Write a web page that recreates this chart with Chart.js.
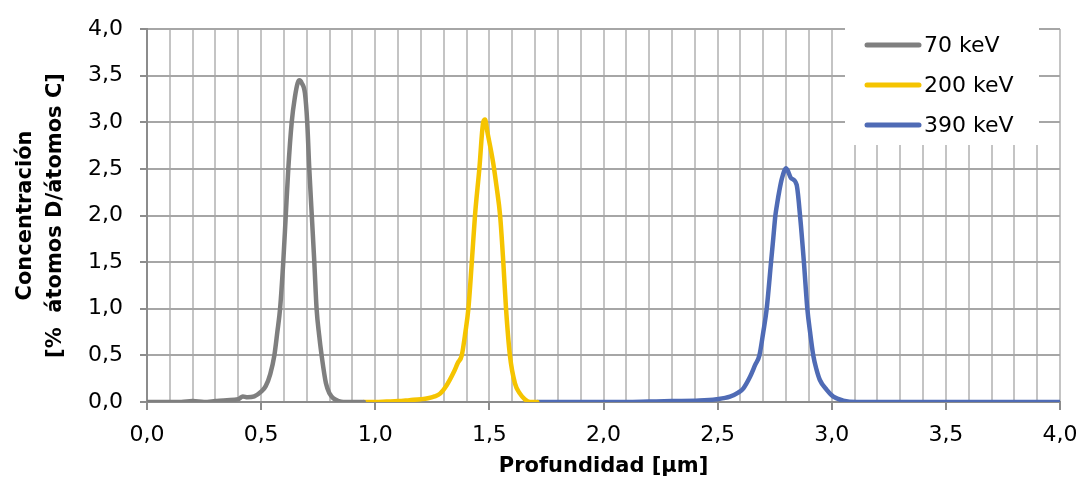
<!DOCTYPE html>
<html>
<head>
<meta charset="utf-8">
<script src="https://cdn.jsdelivr.net/npm/chart.js@4.4.1/dist/chart.umd.min.js"></script>
<style>
  html, body { margin: 0; padding: 0; background: #fff; overflow: hidden; }
  #wrap { width: 1082px; height: 481px; position: relative; }
  canvas { display: block; }
</style>
</head>
<body>
<div id="wrap"><canvas id="myChart"></canvas></div>
<script>
// depth [µm] and concentration [% D/C]
const depth70 = [0.00, 0.05, 0.10, 0.15, 0.20, 0.25, 0.30, 0.35, 0.40, 0.42, 0.44, 0.47, 0.50, 0.52, 0.54, 0.558, 0.571, 0.583, 0.597, 0.608, 0.619, 0.634, 0.648, 0.660, 0.668, 0.678, 0.692, 0.702, 0.711, 0.722, 0.733, 0.743, 0.754, 0.765, 0.784, 0.800, 0.816, 0.84, 0.86, 0.90, 0.95];
const conc70  = [0.00, 0.00, 0.00, 0.00, 0.01, 0.00, 0.01, 0.02, 0.03, 0.06, 0.05, 0.06, 0.11, 0.17, 0.30, 0.50, 0.75, 1.00, 1.50, 2.00, 2.50, 3.00, 3.27, 3.42, 3.45, 3.42, 3.31, 3.00, 2.50, 2.00, 1.50, 1.00, 0.72, 0.50, 0.20, 0.09, 0.04, 0.01, 0.00, 0.00, 0.00];

const depth200 = [0.95, 1.00, 1.05, 1.10, 1.15, 1.20, 1.23, 1.26, 1.284, 1.313, 1.342, 1.362, 1.379, 1.395, 1.408, 1.423, 1.437, 1.456, 1.473, 1.481, 1.491, 1.517, 1.532, 1.547, 1.561, 1.573, 1.590, 1.612, 1.634, 1.655, 1.678, 1.71];
const conc200  = [0.00, 0.00, 0.005, 0.01, 0.02, 0.03, 0.04, 0.06, 0.09, 0.18, 0.31, 0.42, 0.50, 0.75, 1.00, 1.50, 2.00, 2.50, 3.00, 3.03, 2.90, 2.56, 2.30, 2.00, 1.50, 1.00, 0.50, 0.20, 0.09, 0.03, 0.00, 0.00];

const depth390 = [1.71, 1.80, 1.90, 2.00, 2.10, 2.20, 2.30, 2.42, 2.496, 2.554, 2.59, 2.613, 2.642, 2.665, 2.683, 2.70, 2.715, 2.734, 2.744, 2.753, 2.761, 2.770, 2.782, 2.80, 2.822, 2.846, 2.861, 2.878, 2.893, 2.905, 2.919, 2.933, 2.948, 2.978, 3.007, 3.05, 3.11, 3.20, 3.50, 4.00];
const conc390  = [0.00, 0.00, 0.00, 0.00, 0.00, 0.005, 0.01, 0.015, 0.03, 0.057, 0.10, 0.147, 0.27, 0.40, 0.50, 0.75, 1.00, 1.50, 1.76, 2.00, 2.13, 2.26, 2.40, 2.506, 2.40, 2.33, 2.00, 1.50, 1.00, 0.75, 0.50, 0.35, 0.236, 0.13, 0.057, 0.015, 0.00, 0.00, 0.00, 0.00];

const seriesLabels = ['70 keV', '200 keV', '390 keV'];
const seriesColors = ['#7f7f7f', '#f5c400', '#4f6bb5'];

function toPoints(xs, ys) {
  return xs.map((x, i) => ({ x: x, y: ys[i] }));
}

const fmt = v => v.toFixed(1).replace('.', ',');
const isMajor = v => Math.abs(Math.round(v * 10) % 5) === 0;

// legend drawn inside the plot area, on a white box
const boxLegend = {
  id: 'boxLegend',
  beforeDatasetsDraw(chart) {
    const ctx = chart.ctx;
    ctx.save();
    ctx.fillStyle = '#ffffff';
    ctx.fillRect(845, 26, 194, 119);
    ctx.font = '22px "DejaVu Sans"';
    ctx.textBaseline = 'middle';
    ctx.lineCap = 'round';
    chart.data.datasets.forEach((ds, i) => {
      const y = 45 + i * 40;
      ctx.strokeStyle = ds.borderColor;
      ctx.lineWidth = 5;
      ctx.beginPath();
      ctx.moveTo(867, y);
      ctx.lineTo(919, y);
      ctx.stroke();
      ctx.fillStyle = '#000000';
      ctx.fillText(ds.label, 924, y + 1);
    });
    ctx.restore();
  }
};

const config = {
  type: 'line',
  data: {
    datasets: [
      { label: seriesLabels[0], data: toPoints(depth70, conc70), borderColor: seriesColors[0] },
      { label: seriesLabels[1], data: toPoints(depth200, conc200), borderColor: seriesColors[1] },
      { label: seriesLabels[2], data: toPoints(depth390, conc390), borderColor: seriesColors[2] }
    ]
  },
  options: {
    responsive: true,
    maintainAspectRatio: false,
    animation: false,
    layout: { padding: { top: 29, right: 22, left: 0, bottom: 0 } },
    elements: {
      point: { radius: 0 },
      line: { borderWidth: 4.5, cubicInterpolationMode: 'monotone', borderCapStyle: 'round', borderJoinStyle: 'round' }
    },
    plugins: {
      legend: { display: false },
      tooltip: { enabled: false }
    },
    scales: {
      x: {
        type: 'linear',
        min: 0,
        max: 4,
        afterFit: s => { s.height = 79; s.paddingLeft = 0; s.paddingRight = 0; },
        ticks: {
          stepSize: 0.1,
          autoSkip: false,
          maxRotation: 0,
          padding: 12,
          color: '#000',
          font: { family: 'DejaVu Sans', size: 22 },
          callback: v => isMajor(v) ? fmt(v) : ''
        },
        grid: {
          color: '#c4c4c4',
          lineWidth: 2,
          tickLength: 8,
          tickColor: c => isMajor(c.tick.value) ? '#8c8c8c' : 'rgba(0,0,0,0)'
        },
        border: { color: '#8c8c8c', width: 2 },
        title: {
          display: true,
          text: 'Profundidad [µm]',
          color: '#000',
          font: { family: 'DejaVu Sans', size: 21, weight: 'bold' },
          padding: { top: 0, bottom: 2 }
        }
      },
      y: {
        min: 0,
        max: 4,
        afterFit: s => { s.width = 147; s.paddingTop = 0; s.paddingBottom = 0; },
        ticks: {
          stepSize: 0.5,
          padding: 17,
          color: '#000',
          font: { family: 'DejaVu Sans', size: 22 },
          callback: v => fmt(v)
        },
        grid: { color: '#a6a6a6', lineWidth: 2, tickLength: 7, tickColor: '#8c8c8c' },
        border: { color: '#8c8c8c', width: 2 },
        title: {
          display: true,
          text: ['Concentración', '[%  átomos D/átomos C]'],
          color: '#000',
          font: { family: 'DejaVu Sans', size: 21, weight: 'bold', lineHeight: 1.43 },
          padding: { top: 11, bottom: 0 }
        }
      }
    }
  },
  plugins: [boxLegend]
};

window.onload = function() {
  const ctx = document.getElementById('myChart').getContext('2d');
  new Chart(ctx, config);
};
</script>
</body>
</html>
